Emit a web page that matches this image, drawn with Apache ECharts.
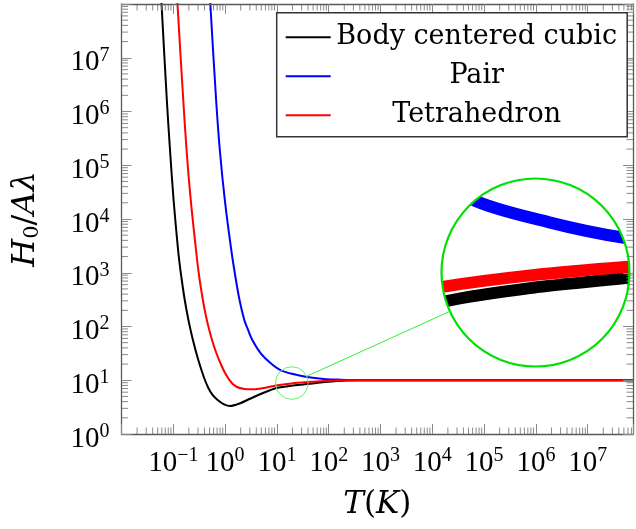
<!DOCTYPE html>
<html>
<head>
<meta charset="utf-8">
<script src="https://cdn.jsdelivr.net/npm/echarts@6/dist/echarts.min.js"></script>
<style>
  html, body { margin: 0; padding: 0; background: #fff; }
  #chart { width: 636px; height: 529px; }
</style>
</head>
<body>
<div id="chart"></div>
<script>
// values: T (K) and H0 / A lambda
var tBcc = [0.0538, 0.0593, 0.075, 0.0864, 0.1013, 0.1237, 0.1413, 0.1664, 0.1995, 0.2392, 0.3039, 0.3946, 0.4752, 0.5725, 0.7176, 0.9358, 1.259, 1.90, 2.96, 4.61, 7.17, 9.78, 19.0, 38.6, 81.9, 145.7, 386, 2270, 1e4, 1e5, 1e6, 1e7, 7.5e7];
var hBcc = [6.6e8, 1e8, 1.64e6, 1.92e5, 2.26e4, 2650, 908, 311, 121, 56.1, 23.8, 11.0, 7.17, 5.32, 4.29, 3.61, 3.32, 3.69, 4.48, 5.43, 6.45, 7.17, 7.92, 8.51, 9.28, 9.72, 9.95, 10, 10, 10, 10, 10, 10];

var tPair = [0.471, 0.519, 0.671, 0.791, 0.987, 1.316, 1.62, 1.90, 2.35, 2.78, 3.35, 4.88, 7.60, 11.94, 21.4, 37.9, 80.9, 145.7, 386, 2270, 1e4, 1e5, 1e6, 1e7, 7.5e7];
var hPair = [6.6e8, 1e8, 1.64e6, 1.92e5, 2.26e4, 2650, 733, 311, 132, 86.1, 56.1, 31.7, 20.7, 15.25, 12.9, 11.5, 10.55, 10.28, 10.02, 10, 10, 10, 10, 10, 10];

var tTet = [0.1093, 0.1205, 0.1557, 0.1803, 0.2171, 0.2745, 0.3134, 0.3725, 0.4227, 0.4945, 0.6451, 0.8414, 1.050, 1.346, 1.693, 2.37, 3.23, 4.61, 6.57, 9.61, 19.0, 38.6, 81.9, 145.7, 386, 2270, 1e4, 1e5, 1e6, 1e7, 7.5e7];
var hTet = [6.6e8, 1e8, 1.64e6, 1.92e5, 2.26e4, 2650, 908, 311, 163.7, 86.1, 36.5, 19.2, 12.5, 8.89, 7.49, 6.88, 6.79, 6.96, 7.39, 7.99, 8.70, 9.24, 9.72, 9.93, 9.98, 10, 10, 10, 10, 10, 10];

var names = ['Body centered cubic', 'Pair', 'Tetrahedron'];
var colors = ['#000000', '#0000ff', '#ff0000'];

// decade exponents that carry a label
var xLabelExp = [-1, 0, 1, 2, 3, 4, 5, 6, 7];
var yLabelExp = [0, 1, 2, 3, 4, 5, 6, 7];
var minorMult = [2, 3, 4, 5, 6, 7, 8, 9];

var X_MIN = 0.01, X_MAX = 7.5e7, Y_MIN = 1, Y_MAX = 1e8;
// the spot that is magnified in the lens
var ZOOM_T = 19.4, ZOOM_H = 8.87;

var GRID = { left: 121.5, top: 4, width: 513.5, height: 430 };
var SPY_R = 16.3;
var LENS = { cx: 535.5, cy: 272.5, r: 94 };
var FRAME = '#5a5a5a', TICK = '#8a8a8a', MAJOR_LEN = 10, MINOR_LEN = 6.5;
var serif = 'Liberation Serif';
var titleFont = 'DejaVu Serif';

function pairs(t, h) {
    return t.map(function (v, i) { return [v, h[i]]; });
}

function minors(lo, hi, min, max) {
    var out = [];
    for (var d = lo; d <= hi; d++) {
        minorMult.forEach(function (m) {
            var v = m * Math.pow(10, d);
            if (v > min && v < max) out.push(v);
        });
    }
    return out;
}

function powLabel(list) {
    return function (value) {
        var e = Math.round(Math.log10(value));
        if (list.indexOf(e) < 0) return '';
        return '{b|10}{s|' + (e < 0 ? '\u2212' + (-e) : e) + '}';
    };
}

var labelRich = {
    b: { fontFamily: serif, fontSize: 29, lineHeight: 32, verticalAlign: 'bottom', color: '#000' },
    s: { fontFamily: serif, fontSize: 20, lineHeight: 14, verticalAlign: 'top', color: '#000' }
};

function frameAxis(extra) {
    var a = {
        type: 'log',
        gridIndex: 0,
        z: 5,
        axisLine: { show: true, lineStyle: { color: FRAME, width: 1.3 } },
        axisTick: { show: true, inside: true, length: MAJOR_LEN, lineStyle: { color: TICK, width: 1 } },
        axisLabel: { show: false },
        splitLine: { show: false },
        minorTick: { show: false }
    };
    return Object.assign(a, extra);
}

var pxDecX = GRID.width / Math.log10(X_MAX / X_MIN);
var pxDecY = GRID.height / Math.log10(Y_MAX / Y_MIN);
var kx = Math.pow(10, SPY_R / pxDecX);
var ky = Math.pow(10, SPY_R / pxDecY);

var curves = [pairs(tBcc, hBcc), pairs(tPair, hPair), pairs(tTet, hTet)];

var mainSeries = names.map(function (n, i) {
    return {
        name: n, type: 'line', xAxisIndex: 0, yAxisIndex: 0, z: 3,
        data: curves[i], symbol: 'none', smooth: 0.3,
        lineStyle: { color: colors[i], width: 2 }, itemStyle: { color: colors[i] }
    };
});

var lensSeries = names.map(function (n, i) {
    return {
        type: 'line', xAxisIndex: 2, yAxisIndex: 2, z: 1,
        data: curves[i], symbol: 'none', smooth: 0.3, silent: true,
        lineStyle: { color: colors[i], width: 12 }
    };
});

var xMinor = minors(-2, 7, X_MIN, X_MAX);
var yMinor = minors(0, 7, Y_MIN, Y_MAX);

var tickSeries = [
    {
        type: 'custom', xAxisIndex: 0, yAxisIndex: 0, z: 5, silent: true, clip: false,
        data: xMinor.map(function (v) { return [v, Y_MIN]; }),
        renderItem: function (params, api) {
            var cs = params.coordSys;
            var x = api.coord([api.value(0), Y_MIN])[0];
            var st = { stroke: TICK, lineWidth: 1 };
            return { type: 'group', children: [
                { type: 'line', shape: { x1: x, y1: cs.y + cs.height, x2: x, y2: cs.y + cs.height - MINOR_LEN }, style: st },
                { type: 'line', shape: { x1: x, y1: cs.y, x2: x, y2: cs.y + MINOR_LEN }, style: st }
            ] };
        }
    },
    {
        type: 'custom', xAxisIndex: 0, yAxisIndex: 0, z: 5, silent: true, clip: false,
        data: yMinor.map(function (v) { return [X_MIN, v]; }),
        renderItem: function (params, api) {
            var cs = params.coordSys;
            var y = api.coord([X_MIN, api.value(1)])[1];
            var st = { stroke: TICK, lineWidth: 1 };
            return { type: 'group', children: [
                { type: 'line', shape: { x1: cs.x, y1: y, x2: cs.x + MINOR_LEN, y2: y }, style: st },
                { type: 'line', shape: { x1: cs.x + cs.width, y1: y, x2: cs.x + cs.width - MINOR_LEN, y2: y }, style: st }
            ] };
        }
    }
];

var option = {
    animation: false,
    backgroundColor: '#fff',
    grid: [
        { left: GRID.left, top: GRID.top, width: GRID.width, height: GRID.height },
        { left: LENS.cx - LENS.r, top: LENS.cy - LENS.r, width: 2 * LENS.r, height: 2 * LENS.r }
    ],
    legend: {
        data: names,
        orient: 'vertical',
        left: 276.7, top: 12.7,
        z: 6,
        padding: [11, 9.5, 8, 9],
        itemGap: 12,
        itemWidth: 45,
        itemHeight: 2,
        icon: 'rect',
        backgroundColor: '#fff',
        borderColor: '#333',
        borderWidth: 1.5,
        borderRadius: 0,
        selectedMode: false,
        formatter: function (n) { return '{c|' + n + '}'; },
        textStyle: {
            rich: { c: { width: 282, align: 'center', fontFamily: titleFont, fontSize: 27, lineHeight: 30, color: '#000' } }
        }
    },
    xAxis: [
        frameAxis({
            position: 'bottom', min: X_MIN, max: X_MAX,
            axisLabel: { show: true, margin: 12, formatter: powLabel(xLabelExp), rich: labelRich },
            name: '{i|T}{r|(}{i|K}{r|)}',
            nameLocation: 'middle', nameGap: 55,
            nameTextStyle: { rich: {
                i: { fontFamily: titleFont, fontStyle: 'italic', fontSize: 31, color: '#000' },
                r: { fontFamily: titleFont, fontSize: 31, color: '#000' }
            } }
        }),
        frameAxis({ position: 'top', min: X_MIN, max: X_MAX }),
        { type: 'log', gridIndex: 1, min: ZOOM_T / kx, max: ZOOM_T * kx, show: false }
    ],
    yAxis: [
        frameAxis({
            position: 'left', min: Y_MIN, max: Y_MAX,
            axisLabel: { show: true, margin: 12, padding: [7, 0, 0, 0], formatter: powLabel(yLabelExp), rich: labelRich },
            name: '{i|H}{sub|0}{r|/}{i|A\u03bb}',
            nameLocation: 'middle', nameGap: 78,
            nameTextStyle: { rich: {
                i: { fontFamily: titleFont, fontStyle: 'italic', fontSize: 32, lineHeight: 34, verticalAlign: 'top', color: '#000' },
                r: { fontFamily: titleFont, fontSize: 32, lineHeight: 34, verticalAlign: 'top', color: '#000' },
                sub: { fontFamily: titleFont, fontSize: 21, lineHeight: 22, verticalAlign: 'bottom', color: '#000' }
            } }
        }),
        frameAxis({ position: 'right', min: Y_MIN, max: Y_MAX }),
        { type: 'log', gridIndex: 1, min: ZOOM_H / ky, max: ZOOM_H * ky, show: false }
    ],
    series: lensSeries.concat(mainSeries, tickSeries)
};

var chart = echarts.init(document.getElementById('chart'));
chart.setOption(option);

// lens decoration: a white ring masks the square inset down to a disc
var spot = chart.convertToPixel({ xAxisIndex: 0, yAxisIndex: 0 }, [ZOOM_T, ZOOM_H]);
var dx = LENS.cx - spot[0], dy = LENS.cy - spot[1];
var dist = Math.sqrt(dx * dx + dy * dy);
var ux = dx / dist, uy = dy / dist;
chart.setOption({
    graphic: [
        { type: 'ring', silent: true, z: 2, shape: { cx: LENS.cx, cy: LENS.cy, r: LENS.r * 1.6, r0: LENS.r }, style: { fill: '#fff' } },
        { type: 'circle', silent: true, z: 7, shape: { cx: LENS.cx, cy: LENS.cy, r: LENS.r }, style: { fill: null, stroke: '#00e000', lineWidth: 2.2 } },
        { type: 'circle', silent: true, z: 7, shape: { cx: spot[0], cy: spot[1], r: SPY_R }, style: { fill: null, stroke: '#66ee66', lineWidth: 1 } },
        { type: 'line', silent: true, z: 7, shape: {
            x1: spot[0] + ux * SPY_R, y1: spot[1] + uy * SPY_R,
            x2: LENS.cx - ux * LENS.r, y2: LENS.cy - uy * LENS.r
        }, style: { stroke: '#33ee33', lineWidth: 1 } }
    ]
});

window.addEventListener('resize', function () { chart.resize(); });
</script>
</body>
</html>
